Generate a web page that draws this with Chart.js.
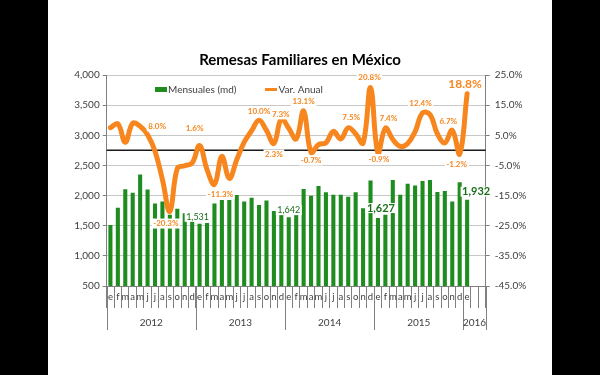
<!DOCTYPE html>
<html>
<head>
<meta charset="utf-8">
<script src="https://cdn.jsdelivr.net/npm/chart.js@4.4.1/dist/chart.umd.min.js"></script>
<style>
  html, body { margin: 0; padding: 0; background: #000; }
  canvas { display: block; }
</style>
</head>
<body>
<canvas id="remesas" width="600" height="375"></canvas>
<script>
// ── data ──────────────────────────────────────────
const months = ['e', 'f', 'm', 'a', 'm', 'j', 'j', 'a', 's', 'o', 'n', 'd'];
const years = ['2012', '2013', '2014', '2015', '2016'];
const yearMonths = [12, 12, 12, 12, 3];

// monthly remittances, millions of dollars (Jan 2012 – Jan 2016)
const mensuales = [
  1510, 1800, 2105, 2045, 2350, 2100, 1870, 1900, 1680, 1780, 1705, 1570,
  1531, 1545, 1870, 1925, 1925, 2010, 1900, 1965, 1845, 1920, 1745, 1690,
  1642, 1680, 2110, 1995, 2160, 2055, 2015, 2015, 1980, 2055, 1790, 2250,
  1627, 1680, 2260, 2015, 2195, 2165, 2240, 2260, 2060, 2075, 1900, 2220,
  1932
];

// annual change, %
const varAnual = [
  7.5, 8.8, 2.7, 9.0, 8.0, 5.2, -0.3, -9.7, -20.3, -6.0, -5.1, -4.2,
  1.6, -6.4, -11.3, -2.0, -9.3, -3.1, 2.7, 6.5, 10.0, 6.6, 2.3, 10.5,
  7.3, 3.8, 13.1, -0.7, 1.9, 2.5, 6.3, 3.8, 7.5, 5.5, 2.4, 20.8,
  -0.9, 7.4, 3.6, 1.3, 2.3, 6.2, 12.4, 11.9, 5.5, 2.5, 6.7, -1.2,
  18.8
];

const leftTicks = { min: 500, max: 4000, step: 500 };
const rightTicks = { min: -45, max: 25, step: 10 };

// which points carry a value label
const lineLabelIdx = [4, 8, 12, 14, 20, 22, 24, 26, 27, 32, 35, 36, 37, 42, 46, 47, 48];
const barLabelIdx = [12, 24, 36, 48];

// category labels: month letters per year, two blank slots at the end
const categories = [];
years.forEach((y, k) => {
  for (let m = 0; m < yearMonths[k]; m++) categories.push(k === 4 && m > 0 ? '' : months[m]);
});

// ── label placement (offset of text centre from the point) ──
const lineLabelPos = {
  4: [17, 0], 8: [-4, 12], 12: [-5, -17], 14: [6, 10], 20: [0, -9], 22: [0, 11],
  24: [-8, -14], 26: [0, -9], 27: [0, 8], 32: [3, -10], 35: [-1, -10], 36: [1, 6],
  37: [3, -10], 42: [-2, -10], 46: [-4, -9], 47: [-3, 10], 48: [-2, -10]
};
const barLabelPos = { 12: [-2, -7], 24: [0, -7], 36: [3, -10], 48: [9, -8] };
const bigLabels = { 48: true };
const bigBarLabels = { 36: true, 48: true };

const FONT = 'Lato, "DejaVu Sans", sans-serif';
const GREEN = '#1f8c1f';
const ORANGE = '#f7861e';
const TEXT = '#404040';

const fmtN = v => v.toLocaleString('en-US');
const fmtP = v => v.toFixed(1) + '%';

function boxedText(ctx, txt, x, y, font, color) {
  ctx.font = font;
  const w = ctx.measureText(txt).width;
  ctx.fillStyle = '#fff';
  ctx.fillRect(x - w / 2 - 1.5, y - 5, w + 3, 10);
  ctx.fillStyle = color;
  ctx.textAlign = 'center';
  ctx.textBaseline = 'middle';
  ctx.fillText(txt, x, y);
}

const decor = {
  id: 'decor',
  beforeDraw(chart) {
    const ctx = chart.ctx;
    ctx.save();
    ctx.fillStyle = '#000';
    ctx.fillRect(0, 0, chart.width, chart.height);
    ctx.fillStyle = '#fff';
    ctx.fillRect(48, 0, chart.width - 96, chart.height);
    ctx.restore();
  },
  beforeDatasetsDraw(chart) {
    // zero line of the right axis
    const { ctx, chartArea: a } = chart;
    const y0 = chart.scales.y2.getPixelForValue(0);
    ctx.save();
    ctx.strokeStyle = '#1a1a1a';
    ctx.lineWidth = 1.5;
    ctx.beginPath();
    ctx.moveTo(a.left, y0);
    ctx.lineTo(a.right, y0);
    ctx.stroke();
    ctx.restore();
  },
  afterDatasetsDraw(chart) {
    const ctx = chart.ctx;
    const x = chart.scales.x, yl = chart.scales.y, yr = chart.scales.y2;
    ctx.save();
    lineLabelIdx.forEach(i => {
      const [dx, dy] = lineLabelPos[i];
      const font = bigLabels[i] ? 'bold 12px ' + FONT : 'bold 8px ' + FONT;
      boxedText(ctx, fmtP(varAnual[i]), x.getPixelForValue(i) + dx, yr.getPixelForValue(varAnual[i]) + dy, font, ORANGE);
    });
    barLabelIdx.forEach(i => {
      const [dx, dy] = barLabelPos[i];
      const font = bigBarLabels[i] ? 'bold 11px ' + FONT : '9px ' + FONT;
      boxedText(ctx, fmtN(mensuales[i]), x.getPixelForValue(i) + dx, yl.getPixelForValue(mensuales[i]) + dy, font, '#1a6e1a');
    });
    ctx.restore();
  },
  afterDraw(chart) {
    const ctx = chart.ctx;
    const x = chart.scales.x;
    const w = (x.right - x.left) / categories.length;
    ctx.save();
    // year groups
    ctx.strokeStyle = '#808080';
    ctx.lineWidth = 1;
    ctx.fillStyle = TEXT;
    ctx.font = '10px ' + FONT;
    ctx.textAlign = 'center';
    ctx.textBaseline = 'middle';
    let start = 0;
    years.forEach((yr, k) => {
      const x0 = x.left + start * w;
      const x1 = x0 + yearMonths[k] * w;
      [x0, x1].forEach(px => {
        ctx.beginPath();
        ctx.moveTo(Math.round(px) + 0.5, x.top);
        ctx.lineTo(Math.round(px) + 0.5, 330);
        ctx.stroke();
      });
      ctx.fillText(yr, (x0 + x1) / 2, 323);
      start += yearMonths[k];
    });
    // legend
    ctx.fillStyle = GREEN;
    ctx.fillRect(155, 87, 12, 5);
    ctx.strokeStyle = ORANGE;
    ctx.lineWidth = 3;
    ctx.beginPath();
    ctx.moveTo(265, 89.5);
    ctx.lineTo(277, 89.5);
    ctx.stroke();
    ctx.fillStyle = TEXT;
    ctx.textAlign = 'left';
    ctx.fillText('Mensuales (md)', 168, 89.5);
    ctx.fillText('Var. Anual', 278.5, 89.5);
    ctx.restore();
  }
};

new Chart(document.getElementById('remesas'), {
  data: {
    labels: categories,
    datasets: [
      {
        type: 'line',
        label: 'Var. Anual',
        data: varAnual,
        yAxisID: 'y2',
        borderColor: ORANGE,
        borderWidth: 5,
        borderCapStyle: 'round',
        tension: 0.4,
        pointRadius: 0,
        order: 0
      },
      {
        type: 'bar',
        label: 'Mensuales (md)',
        data: mensuales,
        yAxisID: 'y',
        backgroundColor: GREEN,
        barPercentage: 0.55,
        categoryPercentage: 1,
        order: 1
      }
    ]
  },
  options: {
    responsive: false,
    animation: false,
    devicePixelRatio: 1,
    layout: { padding: 0 },
    plugins: {
      legend: { display: false },
      tooltip: { enabled: false },
      title: {
        display: true,
        text: 'Remesas Familiares en México',
        color: '#000',
        font: { family: FONT, size: 15, weight: 'bold', lineHeight: 1.2 },
        padding: { top: 51, bottom: 6 }
      }
    },
    scales: {
      x: {
        type: 'category',
        offset: true,
        grid: { offset: true, drawOnChartArea: false, tickLength: 22, color: '#808080' },
        border: { color: '#808080' },
        ticks: { autoSkip: false, maxRotation: 0, padding: -17, color: TEXT, font: { family: FONT, size: 9.5 } },
        afterFit: s => { s.height = 89; }
      },
      y: {
        position: 'left',
        min: leftTicks.min,
        max: leftTicks.max,
        ticks: { stepSize: leftTicks.step, callback: v => fmtN(v), color: TEXT, padding: 3, font: { family: FONT, size: 10 } },
        grid: { color: '#c8c8c8', tickColor: '#808080', tickLength: 4 },
        border: { color: '#808080' },
        afterFit: s => { s.width = 106.7; }
      },
      y2: {
        position: 'right',
        min: rightTicks.min,
        max: rightTicks.max,
        ticks: { stepSize: rightTicks.step, callback: v => fmtP(v), color: TEXT, padding: 5, font: { family: FONT, size: 10 } },
        grid: { drawOnChartArea: false, tickColor: '#808080', tickLength: 4 },
        border: { color: '#808080' },
        afterFit: s => { s.width = 114.3; }
      }
    }
  },
  plugins: [decor]
});
</script>
</body>
</html>
